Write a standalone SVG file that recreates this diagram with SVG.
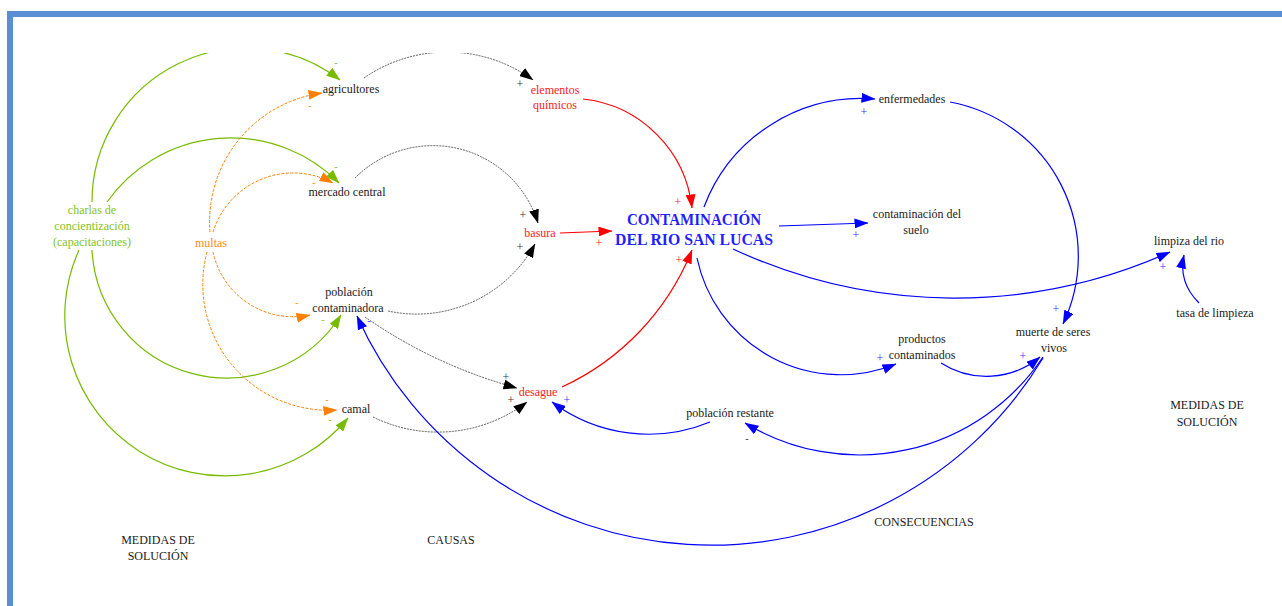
<svg xmlns="http://www.w3.org/2000/svg" width="1282" height="606" viewBox="0 0 1282 606">
<style>
.t{font-family:"Liberation Serif","Times New Roman",serif;font-size:12px;fill:#1a1a1a;text-anchor:middle}
.tr{fill:#ff1a1a}
.tg{fill:#84c226}
.to{fill:#ff8a1c}
.title{font-family:"Liberation Serif","Times New Roman",serif;font-size:16px;font-weight:bold;fill:#1f1fff;text-anchor:middle}
.p{font-family:"Liberation Serif","Times New Roman",serif;font-size:12px;text-anchor:middle}
.m{font-family:"Liberation Serif","Times New Roman",serif;font-size:10px;text-anchor:middle}
.c{fill:none}
.cb{stroke:#333;stroke-width:0.8;stroke-dasharray:2 1}
.cg{stroke:#77bb00;stroke-width:1.2}
.co{stroke:#ff8000;stroke-width:1;stroke-dasharray:3 1.5}
.cr{stroke:#ff0000;stroke-width:1.2}
.cu{stroke:#0000ff;stroke-width:1.2}
</style>
<defs>
<marker id="ab" viewBox="0 0 14 10" markerWidth="14" markerHeight="10" refX="13.5" refY="5" orient="auto" markerUnits="userSpaceOnUse"><path d="M0,0 L14,5 L0,10 Z" fill="#000"/></marker>
<marker id="ag" viewBox="0 0 14 10" markerWidth="14" markerHeight="10" refX="13.5" refY="5" orient="auto" markerUnits="userSpaceOnUse"><path d="M0,0 L14,5 L0,10 Z" fill="#77bb00"/></marker>
<marker id="ao" viewBox="0 0 14 10" markerWidth="14" markerHeight="10" refX="13.5" refY="5" orient="auto" markerUnits="userSpaceOnUse"><path d="M0,0 L14,5 L0,10 Z" fill="#ff8000"/></marker>
<marker id="ar" viewBox="0 0 14 10" markerWidth="14" markerHeight="10" refX="13.5" refY="5" orient="auto" markerUnits="userSpaceOnUse"><path d="M0,0 L14,5 L0,10 Z" fill="#ff0000"/></marker>
<marker id="au" viewBox="0 0 14 10" markerWidth="14" markerHeight="10" refX="13.5" refY="5" orient="auto" markerUnits="userSpaceOnUse"><path d="M0,0 L14,5 L0,10 Z" fill="#0000ff"/></marker>
<clipPath id="clip"><rect x="0" y="53" width="1282" height="553"/></clipPath>
</defs>
<rect width="1282" height="606" fill="#fff"/>
<g id="frame" fill="#5a8fd6">
<rect x="7" y="11" width="1275" height="6"/>
<rect x="7" y="11" width="6" height="595"/>
</g>
<g id="connectors" clip-path="url(#clip)">
<g class="c cg">
<path d="M92,202 A154,154 0 0 1 340,80" marker-end="url(#ag)"/>
<path d="M107,202 A152,152 0 0 1 339,183" marker-end="url(#ag)"/>
<path d="M92,250 A135,135 0 0 0 341,315" marker-end="url(#ag)"/>
<path d="M79,250 A160,160 0 0 0 348,418" marker-end="url(#ag)"/>
</g>
<g class="c co">
<path d="M210,232 A130,130 0 0 1 322,93" marker-end="url(#ao)"/>
<path d="M213,232 A84,84 0 0 1 333,183" marker-end="url(#ao)"/>
<path d="M213,252 A82,82 0 0 0 310,315" marker-end="url(#ao)"/>
<path d="M207,252 A126,126 0 0 0 337,410" marker-end="url(#ao)"/>
</g>
<g class="c cb">
<path d="M364,78 A146,146 0 0 1 533,80" marker-end="url(#ab)"/>
<path d="M355,178 A110,110 0 0 1 538,223" marker-end="url(#ab)"/>
<path d="M388,311 A135,135 0 0 0 535,244" marker-end="url(#ab)"/>
<path d="M365,317 A490,490 0 0 0 517,388" marker-end="url(#ab)"/>
<path d="M373,417 A147,147 0 0 0 527,402" marker-end="url(#ab)"/>
</g>
<g class="c cr">
<path d="M583,99 A123,123 0 0 1 692,208" marker-end="url(#ar)"/>
<path d="M560,233 L612,231" marker-end="url(#ar)"/>
<path d="M562,387 A255,255 0 0 0 692,250" marker-end="url(#ar)"/>
</g>
<g class="c cu">
<path d="M704,207 A168,168 0 0 1 875,99" marker-end="url(#au)"/>
<path d="M779,226 L868,223" marker-end="url(#au)"/>
<path d="M733,249 A526,526 0 0 0 1170,252" marker-end="url(#au)"/>
<path d="M697,258 A147,147 0 0 0 896,364" marker-end="url(#au)"/>
<path d="M950,102 A157,157 0 0 1 1063,324" marker-end="url(#au)"/>
<path d="M941,363 A84,84 0 0 0 1040,357" marker-end="url(#au)"/>
<path d="M1043,357 A221,221 0 0 1 745,423" marker-end="url(#au)"/>
<path d="M1043,358 A388,388 0 0 1 357,316" marker-end="url(#au)"/>
<path d="M710,422 A161,161 0 0 1 552,402" marker-end="url(#au)"/>
<path d="M1199,303 Q1178,282 1184,255" marker-end="url(#au)"/>
</g>
<g id="polarities">
<g class="m" fill="#84c226">
<text x="336" y="66">-</text>
<text x="336" y="170">-</text>
<text x="323" y="323">-</text>
<text x="330" y="423">-</text>
</g>
<g class="m" fill="#ff8a1c">
<text x="310" y="109">-</text>
<text x="314" y="186">-</text>
<text x="297" y="306">-</text>
<text x="327" y="403">-</text>
</g>
<text class="m" x="369" y="324" fill="#3333ff">-</text>
<text class="m" x="747" y="442" fill="#333">-</text>
<g class="p" fill="#333">
<text x="520" y="88">+</text>
<text x="523" y="219">+</text>
<text x="520" y="251">+</text>
<text x="506" y="381">+</text>
<text x="511" y="404">+</text>
</g>
<g class="p" fill="#ff2020">
<text x="599" y="247">+</text>
<text x="678" y="206">+</text>
<text x="679" y="264">+</text>
</g>
<g class="p" fill="#3333ff">
<text x="864" y="116">+</text>
<text x="856" y="239">+</text>
<text x="1163" y="271">+</text>
<text x="880" y="362">+</text>
<text x="1023" y="360">+</text>
<text x="1056" y="313">+</text>
<text x="567" y="404">+</text>
</g>
</g>
</g>
<g id="n-agricultores"><text class="t" x="351" y="93">agricultores</text></g>
<g id="n-mercado"><text class="t" x="347" y="196">mercado central</text></g>
<g id="n-charlas"><text class="t tg" x="92" y="214">charlas de</text><text class="t tg" x="92" y="230">concientización</text><text class="t tg" x="92" y="246">(capacitaciones)</text></g>
<g id="n-multas"><text class="t to" x="211" y="247">multas</text></g>
<g id="n-poblacion-contaminadora"><text class="t" x="349" y="296">población</text><text class="t" x="348" y="312">contaminadora</text></g>
<g id="n-camal"><text class="t" x="356" y="413">camal</text></g>
<g id="n-elementos"><text class="t tr" x="555" y="94">elementos</text><text class="t tr" x="555" y="109">químicos</text></g>
<g id="n-basura"><text class="t tr" x="540" y="237">basura</text></g>
<g id="n-desague"><text class="t tr" x="538" y="396">desague</text></g>
<g id="n-contaminacion-rio"><text class="title" x="694" y="225" textLength="134" lengthAdjust="spacingAndGlyphs">CONTAMINACIÓN</text><text class="title" x="694" y="245" textLength="158" lengthAdjust="spacingAndGlyphs">DEL RIO SAN LUCAS</text></g>
<g id="n-enfermedades"><text class="t" x="912" y="103">enfermedades</text></g>
<g id="n-contaminacion-suelo"><text class="t" x="917" y="218">contaminación del</text><text class="t" x="916" y="234">suelo</text></g>
<g id="n-limpiza"><text class="t" x="1189" y="245">limpiza del rio</text></g>
<g id="n-tasa"><text class="t" x="1215" y="317">tasa de limpieza</text></g>
<g id="n-productos"><text class="t" x="922" y="343">productos</text><text class="t" x="922" y="359">contaminados</text></g>
<g id="n-muerte"><text class="t" x="1053" y="336">muerte de seres</text><text class="t" x="1054" y="352">vivos</text></g>
<g id="n-poblacion-restante"><text class="t" x="730" y="417">población restante</text></g>
<g id="labels">
<text class="t" x="1207" y="409">MEDIDAS DE</text><text class="t" x="1207" y="426">SOLUCIÓN</text>
<text class="t" x="158" y="544">MEDIDAS DE</text><text class="t" x="158" y="560">SOLUCIÓN</text>
<text class="t" x="451" y="544">CAUSAS</text>
<text class="t" x="924" y="526">CONSECUENCIAS</text>
</g>
</svg>
